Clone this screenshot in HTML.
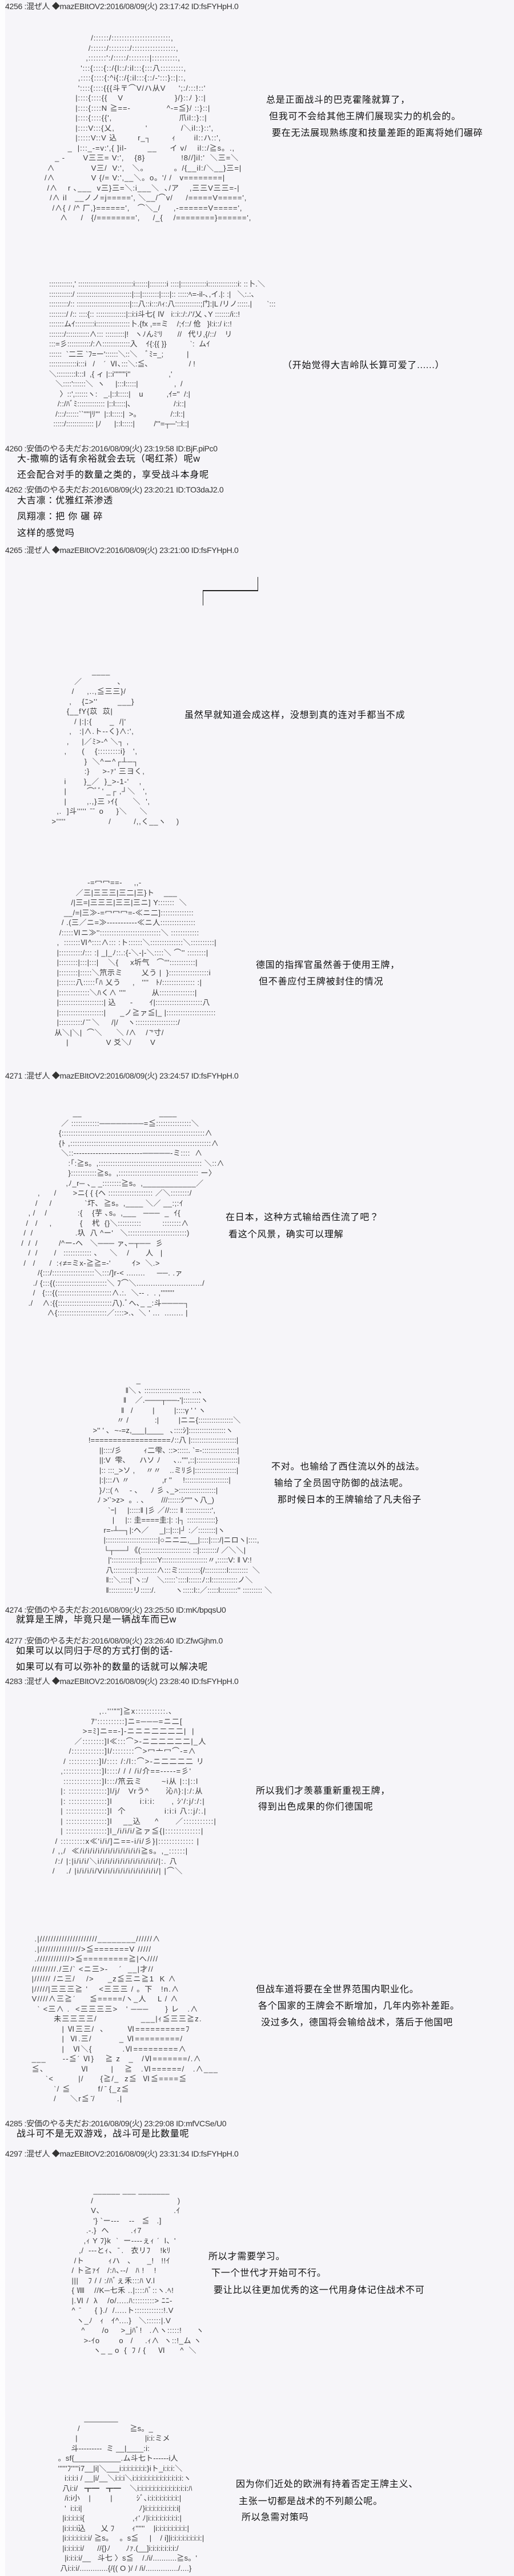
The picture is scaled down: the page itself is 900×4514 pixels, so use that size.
<!DOCTYPE html>
<html><head><meta charset="utf-8"><style>
html,body{margin:0;padding:0}
body{width:900px;height:4514px;background:#f6f5f9;position:relative;overflow:hidden;font-family:"Liberation Sans","Noto Sans CJK JP",sans-serif}
.strip{position:absolute;left:0;top:0;width:9px;height:4514px;background:#fdfdfe}
.h{position:absolute;left:9px;font-size:14px;color:#333;white-space:nowrap;line-height:16px;letter-spacing:-0.3px}
.t{position:absolute;font-size:16px;color:#111;white-space:nowrap;line-height:18px;letter-spacing:0.8px;z-index:2}
.a{position:absolute;font-size:13px;letter-spacing:1.2px;line-height:17.5px;color:#3a3a3a;white-space:pre;font-family:"Liberation Sans","Noto Sans CJK JP",sans-serif}
.ln{position:absolute;background:#222}
</style></head><body>
<div class="strip"></div>

<div class="h" style="top:3px">4256 :混ぜ人 ◆mazEBItOV2:2016/08/09(火) 23:17:42 ID:fsFYHpH.0</div>
<div class="a" style="left:60px;top:58px;letter-spacing:0.9px">                      /::::::/:::::::::::::::::::::::,
                     /::::::/::::::::/:::::::::::::::::,
                    ,:::::::':/:::::/::::::::|::::::::::,
                  ':::{::::{::/{l::/:il:::{:::八:::::::::,
                 ,::::{::::{:^i{::/{:il:::{::/-':::}::|::,
                 '::::{::::{{{斗〒⌒V/ハ从V     ';:/:::!::'
                |::::{::::{{    V                    }/}::ﾉ }::|
                |::::{::::N ≧==-              ^-=≦}/ ::}::|
                |::::{::::{{',                          爪il::}::|
                |::::V:::{乂,            '             /＼il::}::',
                |:::::V::V 込        r_┐        ｨ       il::ハ::',
             _  |:::_-=v:',{ ]il-        __     イ v/    il::/≧s。.,
        _ -       V三三= V:',    {8}              !8//]il:'  ＼三=＼
     ∧              V三/  V:',   ＼。          。/{__il:/＼__}三=|
    /∧              V {/= V:',__＼。o。'/ /   v========|
     /∧    r ､___  v三}三=＼:i___＼  ､/ア    ,三三V三三=-|
      /∧ il   __ノノ=j=====', ＼__/⌒v/     /=====V=====',
       /∧{ / /^ 厂,}======',   ⌒＼_/     ,-======V=====',
          ∧     /   {/========',     /_{    /========}======',</div>
<div class="t" style="left:466px;top:167px">总是正面战斗的巴克霍隆就算了，</div>
<div class="t" style="left:471px;top:196px">但我可不会给其他王牌们展现实力的机会的。</div>
<div class="t" style="left:476px;top:225px">要在无法展现熟练度和技量差距的距离将她们碾碎</div>

<div class="a" style="left:86px;top:489px;letter-spacing:0.1px">:::::::::::,' ::::::::::::::::::::::::::i::::::|::::::::i ::::|::::::::::::i::::::::::::::i: ::卜.＼
:::::::::::/ ::::::::::::::::::::::::::|:::|::::::::|::::|:: :::::ﾍ=-il-､,イ.|: :|   ＼:.:､
:::::::::/:: :::::::::::::::::::::::::|:::八::i:::ﾊｨ:八::::::::::::;门:|L /リノ:::::.|       ˋ:::
::::::::/ /:: ::::{:: ::::::::::::::|::i:i斗七{ Ⅳ   i::i::/:ﾉ'/乂 ､Y :::::::/i::!
:::::::ムｲ:::::::::i::::::::::::::::卜.{fx ,==ミ    /;ｲ::/ 伧   }l:i::/ i::!
:::::::/:::::::::::∧::: :::::::::|!   ヽﾉんﾐ'ﾘ       //   代リ,{/::/    リ
:::=彡:::::::::::/:∧:::::::::::::入    ｲ{:{{ }}           ˋ:  ムｲ
::::::  `二三 `ﾌ=ー'::::::＼::＼    ﾞﾐ=_;           |
:::::::::::::i:::i   /    ˊ  Ⅵ､:::＼:≦､                   / !
＼:::::::::l:::l  ,{ ィ |::i''''''''i''                  ,'
   ＼::::'::::::＼  ヽ     |:::l:::::|                 ,  /
     〉::',::::::ヽ:   _.|::l:::::|    u           ,ｲ=''  /:|
    /::/ﾊﾞﾐ::::::::::::: |::l:::::|､                    /:i::|
   /:::/::::::``''''|ﾘ'''  |::l:::::|  >。              /::l::|
  :::::/::::::::::::: |ﾉ      |::l:::::|         /'''=┬─'::l::|</div>
<div class="t" style="left:495px;top:632px">（开始觉得大吉岭队长算可爱了......）</div>

<div class="h" style="top:778px">4260 :安価のやる夫だお:2016/08/09(火) 23:19:58 ID:BjF.piPc0</div>
<div class="t" style="left:30px;top:796px">大-撒嘛的话有余裕就会去玩（喝红茶）呢w</div>
<div class="t" style="left:30px;top:824px">还会配合对手的数量之类的，享受战斗本身呢</div>
<div class="h" style="top:850px">4262 :安価のやる夫だお:2016/08/09(火) 23:20:21 ID:TO3daJ2.0</div>
<div class="t" style="left:30px;top:869px">大吉凛：优雅红茶渗透</div>
<div class="t" style="left:30px;top:897px">凤翔凛：把 你 碾 碎</div>
<div class="t" style="left:30px;top:926px">这样的感觉吗</div>
<div class="h" style="top:956px">4265 :混ぜ人 ◆mazEBItOV2:2016/08/09(火) 23:21:00 ID:fsFYHpH.0</div>

<div class="ln" style="left:451px;top:1011px;width:1px;height:25px"></div>
<div class="ln" style="left:355px;top:1034px;width:97px;height:2px"></div>
<div class="ln" style="left:355px;top:1034px;width:1px;height:27px"></div>

<div class="a" style="left:86px;top:1168px;letter-spacing:0.8px">                 ____
          ／              ､
         /     ,..,≦三三}/
        ,    {ﾆ>''        ___}
       {__fY{苡  苡|
          / |:|:{       _  /|'
        ,   :|∧.ト--く}∧:',
       ,     |／ﾐ>-^ ＼┐ ,
      ,      (    {:::::::::i}   ',
              }  ＼^ー^┌┴─┐
              :}     >-ｧ' 三ヨく,
      i       }_／  }_>-1-'    ,
      |        ⌒ﾞﾞ' _┌ ,┘＼   ',
      |        ,.,}三 ›ｲ{      ＼  ',
   ,.  ]斗'''''  ̄ ̄  o     }＼     ＼
 >'''''                 /         /,,く__ヽ    )</div>
<div class="t" style="left:323px;top:1245px">虽然早就知道会成这样，没想到真的连对手都当不成</div>

<div class="a" style="left:75px;top:1538px;letter-spacing:0.5px">                   -=冖冖==-     ,,-
              ／三|三三三|三二|三}ト    ___
            /|三=|三三三|三三|三ニ] Y:::::::  ＼
         __/=|三≫-=冖冖冖=-≪ニ二]::::::::::::::
        / .(三／ニ=≫-----------≪ニ人:::::::::::::::
       /:::::Ⅵニ≫''::::::::::::::::::::::::::＼ ::::::::::::
      ,  :::::::Ⅵ^::::∧::: :ト::::::＼::::::::::::::＼::::::::::|
      |::::::::::/::: :| _|_ﾉ::.:{-＼-|-＼::::＼ ⌒'' ::::::::|
      |::::::::|:::|:::|    ＼{     x圻气   ⌒''':::::::::::|
      |::::::::|:::::＼笊示ミ        乂う |  }:::::::::::::::::i
      |:::::::八:::::｢ﾊ 乂う     ,   ''''   ﾄ/:::::::::::::: :|
      |:::::::::::::＼ﾊく∧ ''''           从:::::::::::::::|
      |:::::::::::::::::::| 込      -       ｲ|::::::::::::::::::::八
      |:::::::::::::::::::|      _ノ≧ァ≦|_ |:::::::::::::::::::::
      |::::::::::/ ̄ ̄ ＼     /|/    ヽ::::::::::::::::::/
     从＼|＼|  ⌒＼      ＼ /∧    / ̄°寸/
          |                V 爻＼/        V</div>
<div class="t" style="left:448px;top:1683px">德国的指挥官虽然善于使用王牌，</div>
<div class="t" style="left:453px;top:1712px">但不善应付王牌被封住的情况</div>

<div class="h" style="top:1877px">4271 :混ぜ人 ◆mazEBItOV2:2016/08/09(火) 23:24:57 ID:fsFYHpH.0</div>
<div class="a" style="left:29px;top:1942px;letter-spacing:0.5px">                        __                                 ____
                   ／ ::::::::::::────────=≦:::::::::::::::＼
                  {:::::::::::::::::::::::::::::::::::::::::::::::::::::::::::::∧
                  {ﾄ ,::::::::::::::::::::::::::::::::::::::::::::::::::::::::::::∧
                   ＼::-------------------------─────-ミ::::  ∧
                      :｢:≧s。,:::::::::::::::::::::::::::::::::::::::::::: ＼::∧
                      }:::::::::::≧s。,:::::::::::::::::::::::::::::::::: ー〉
                     ,ﾉ_r─ ､_ _::::::::≧s。,____________／
         ,      /       >ニ{ { {ヘ ::::::::::::::::::: ／＼::::::::/
        /     /              `圷､  ≧s。,____ ＼／ __:;:ｲ
     , /    /             :{    {芋 ､s。,___   ───  _  ｲ{
    /   /     ,            {    杙  {}＼::::::::::         ::::::::∧
   /  /                  .圦  八 ^ー'   ＼:::::::::::::::::::::::::)
  /  /  /         /^ー-ヘ   ＼─── ァ､─┬──  彡
     /  /       /   :::::::::::: ､     ＼    /       人   |
   /   /      /  :ｨ≠=ミx-≧≧=-'         ｲ>  ＼.>
         /{:::/::::::::::::::::::＼:::/]r-< ........     ──. .ァ
       ./ {:::{(::::::::::::::::::::::＼ ﾌ⌒＼............................/
       /   {:::{(:::::::::::::::::::::::∧.:.  ＼-- .  . ,''''''''
     ./    ∧:{{:::::::::::::::::::::::八).ﾞへ､_ _:斗────┐
             ∧{:::::::::::::::::::::／::::>.、＼ ' ...  ........ |</div>
<div class="t" style="left:395px;top:2125px">在日本，这种方式输给西住流了吧？</div>
<div class="t" style="left:400px;top:2155px">看这个风景，确实可以理解</div>

<div class="a" style="left:132px;top:2410px;letter-spacing:0.2px">                            _
                       ‖＼ ､ ::::::::::::::::::::: ...､
                      ‖    ／.───┬──-'|::::::::ヽ
                     ‖   /         |         |::::γ ' ' ヽ
                   〃 /            :|         |ニニ{::::::::::::::::＼
        >'' ' ､  ~-=z,___|____   ､::::ｼ]:::::::::::::::::ヽ
      !==================ﾉ::八 |:::::::::::::::::::::|
           ||::::/彡          ｨ二雫､ ::>:::::. `=-::::::::::::::::|
           ||:V  雫､      ハソ ﾉ      ､..'''',::|:::::::::::::::::::|
           |:: :::_>ソ ,     〃〃    ..ミﾘ彡|:::::::::::::::::::|
           |:|:::ハ 〃               ,r ''     !::::::::::::::::::::|
           }ﾉ::( ﾍ     - 、    ﾉ 彡 ､_>:::::::::::::::::|
          ﾉ >'`>z>  。. 、      ///::::::ｼ'''''ヽ八_)
               `ｰ|     |:::::‖ |彡 ／//:::: ‖ ::::::::::::',
                 |     |:: 圭====圭:|: :|┐ :::::::::::::}
             r=-┴─┐|:ヘ／     _|::|:::|┘ :／::::::::|ヽ
             |::::::::::::::::::::::::|○ニニ二,__|::::|::::/|ニロヽ|::::,
             └┬──┘《(::::::::::::::::::::::: ::|::::::::/ ／＼＼|
               |':::::::::::::|:::::::Y:::::::::::::::::::::〃,:::::V: ‖ V:!
              八::::::::::|:::::::::∧:::ミ::::::::::{/::::::::::l:::::::::  ＼
              ‖::＼::::|`ヽ::/    ＼:::::`::::l::::::ﾉ::l::::::::::::ノ＼
              ‖:::::::::::リ:::::/.         ヽ:::::l::／:::::l::::::::'' ::::::::: ＼</div>
<div class="t" style="left:475px;top:2562px">不对。也输给了西住流以外的战法。</div>
<div class="t" style="left:480px;top:2591px">输给了全员固守防御的战法呢。</div>
<div class="t" style="left:486px;top:2620px">那时候日本的王牌输给了凡夫俗子</div>

<div class="h" style="top:2813px">4274 :安価のやる夫だお:2016/08/09(火) 23:25:50 ID:mK/bpqsU0</div>
<div class="t" style="left:28px;top:2830px">就算是王牌，毕竟只是一辆战车而已w</div>
<div class="h" style="top:2867px">4277 :安価のやる夫だお:2016/08/09(火) 23:26:40 ID:ZfwGjhm.0</div>
<div class="t" style="left:28px;top:2885px">如果可以以同归于尽的方式打倒的话-</div>
<div class="t" style="left:28px;top:2913px">如果可以有可以弥补的数量的话就可以解决呢</div>
<div class="h" style="top:2938px">4283 :混ぜ人 ◆mazEBItOV2:2016/08/09(火) 23:28:40 ID:fsFYHpH.0</div>

<div class="a" style="left:63px;top:2990px">                       ,..'''""]≧x:::::::::::.､
                    ｱ'::::::::::]ニ=───=ニ二[
                 >=ﾐ]ニ==-]-ニニニ二二二二|  |
              ／::::::::]l≪:::⌒>-ニ二二二二二|_人
            /::::::::::::]l/::::::::⌒>冖亠冖⌒-=∧
          / :::::::::::]l/:::: /:/l::⌒>-ニ二二二二 リ
         ,::::::::::::::]l::::/ / / /i/介==-----=彡'
          ::::::::::::::]l:::/笊云ミ       ~i从 |::|::l
         |: ::::::::::::::]l/j/   Vrう^      沁ﾊ}:|:/:从
         |: ::::::::::::::]l          i:i:i:      , ｼ'/:j/:/:|
         | :::::::::::::::]l  个              i:i:i 八::j/:.|
         | :::::::::::::::]l    __込     ^      ／:::::::::::|
         | :::::::::::::::]l_/i/i/i/≧ァ≦{|:::::::::::::|
       / :::::::::x≪'i/i/]ニ==-i/i/彡}|::::::::::::: |
      / ,,/  ≪/i/i/i/i/i/i/i/i/i/i/i/i≧s。,_::::::|
       /:/ |:|i/i/i/＼i/i/i/i/i/i/i/i/i/i/i/i/|:. 八
      /    ./ |i/i/i/i/Vi/i/i/i/i/i/i/i/i/i/i/| |⌒＼</div>
<div class="t" style="left:448px;top:3130px">所以我们才羡慕重新重视王牌，</div>
<div class="t" style="left:452px;top:3158px">得到出色成果的你们德国呢</div>

<div class="a" style="left:46px;top:3389px">   .|/////////////////////________//////∧
   .|///////////////>≦=======V /////
   .////////////>≦=========≧|へ////
  /////////./三/` <ニ三>-    ´  __|才//
  |////// /ニ三/    />     _z≦三ニ≧1  K ∧
  |/////|三三三≧ '    <三三三 / 。下   !n.∧
  V////∧三≧ˊ     ≦=====/ヽ_人    L / ∧
    ˋ <三∧ .  <三三三三>   ' ───      } レ   .∧
          未三三三三/                ___|ｨ≦三三≧z.
             | Ⅵ三三/  、       Ⅵ==========ﾌ
             |  Ⅵ.三/          _ Ⅵ=========/
             |   Ⅵ＼{           .Ⅵ=========∧
  ___      --≦ˊ Ⅵ}    ≧ z   _   /Ⅵ=======/.∧
  ≦、            Ⅵ        |    ≧   .Ⅵ======/   .∧___
       ˋ<         |/      {≧/_  z≦  Ⅵ≦====≦
          ˋ/ ≦          f/ ̄ {_z≦
          /     ＼r≦ ̄/        .|</div>
<div class="t" style="left:448px;top:3478px">但战车道将要在全世界范围内职业化。</div>
<div class="t" style="left:452px;top:3507px">各个国家的王牌会不断增加，几年内弥补差距。</div>
<div class="t" style="left:457px;top:3536px">没过多久，德国将会输给战术，落后于他国吧</div>

<div class="h" style="top:3713px">4285 :安価のやる夫だお:2016/08/09(火) 23:29:08 ID:mfVCSe/U0</div>
<div class="t" style="left:29px;top:3731px">战斗可不是无双游戏，战斗可是比数量呢</div>
<div class="h" style="top:3766px">4297 :混ぜ人 ◆mazEBItOV2:2016/08/09(火) 23:31:34 ID:fsFYHpH.0</div>

<div class="a" style="left:75px;top:3830px;letter-spacing:0.6px">                     ______ ___ _______
                    /                                   )
                    V、                             .ｲ
                     '} `ー---    --   ≦   .]
                  .-.}  へ         .ｨ7
                 ,ｨ Y ﾌ}k  ˋ  ー----ぇｨ ˊ  l、'
               ,/  ---とｨ、 ̄ .   衣リﾌ    !kﾘ
             /ト          ｨハ   、     _!   !!ｲ
            / ト≧ｧｲ   /:ﾊ､--/   ﾊ !    !
            |||    ﾌ / / :/ﾊﾞぇ禾:::ﾊ V.l
            { Ⅷ    //K─七禾 ..|::::ﾊﾞ::ヽ.ﾍ!
            |.Ⅵ /  λ    /o/.....ﾊ:::::::::> ﾆﾆ-
            ^  ̄      { }./  /.....ト::::::::::::!.V
              ヽ_ﾉ   ｨ   ｲ^....}   ＼::::::|.V
                ^       /o     >_jﾊﾞ!   .∧ヽ:::::!      ヽ
                 >-ｲo        o   /     .ｨ∧  ヽ::!_ム ヽ
                     ヽ_ _ o  {  ﾌ / {     Ⅵ      ^  ＼</div>
<div class="t" style="left:365px;top:3946px">所以才需要学习。</div>
<div class="t" style="left:370px;top:3975px">下一个世代才开始可不行。</div>
<div class="t" style="left:374px;top:4005px">要让比以往更加优秀的这一代用身体记住战术不可</div>

<div class="a" style="left:75px;top:4229px;letter-spacing:0.2px">                   ________
                /                       ≧s。_
               |                               |i:i:ミメ
             斗---------  ミ __|____:i:
       。sf{___________.ム斗七ト------i人
       ''''''ﾌ'''''i7__|i|＼___i:i:i:i:i:i:i:}iト_i:i:i:＼
          i:i:i:i / __|i/__＼i:i:i＼i:i:i:i:i:i:i:i:i:i:i:i:i:ヽ
         八i:i/   ┳━   ┳━    ＼i:i:i:i:i:i:i:i:i:i:i:i:i:ﾊ
          /i:i小    |         |           ｼﾞ､i:i:i:i:i:i:i:i:|
          '  i:i:i|                          ﾉ}i:i:i:i:i:i:i:i:i|
         |i:i:i:i:i{                      ,ｨ' ﾉ|i:i:i:i:i:i:i:i:|
         |i:i:i:i込       乂 ﾌ        ｨ''''''    |i:i:i:i:i:i:i:i:|
         |i:i:i:i:i:i:i/ ≧s。   。s≦     |    / i]|i:i:i:i:i:i:i:i:|
         |i:i:i:i:i/      //{}ﾉ       ﾉｧ.(__]i:i:i:i:i:i:i:/
          |i:i:i:i/__   斗七 〉s≦    /./i/...........≧s。'
        八i:i:i/.............{/{( O )/ / /i/.............../....}</div>
<div class="t" style="left:413px;top:4345px">因为你们近处的欧洲有持着否定王牌主义、</div>
<div class="t" style="left:418px;top:4375px">主张一切都是战术的不列颠公呢。</div>
<div class="t" style="left:423px;top:4403px">所以急需对策吗</div>
</body></html>
